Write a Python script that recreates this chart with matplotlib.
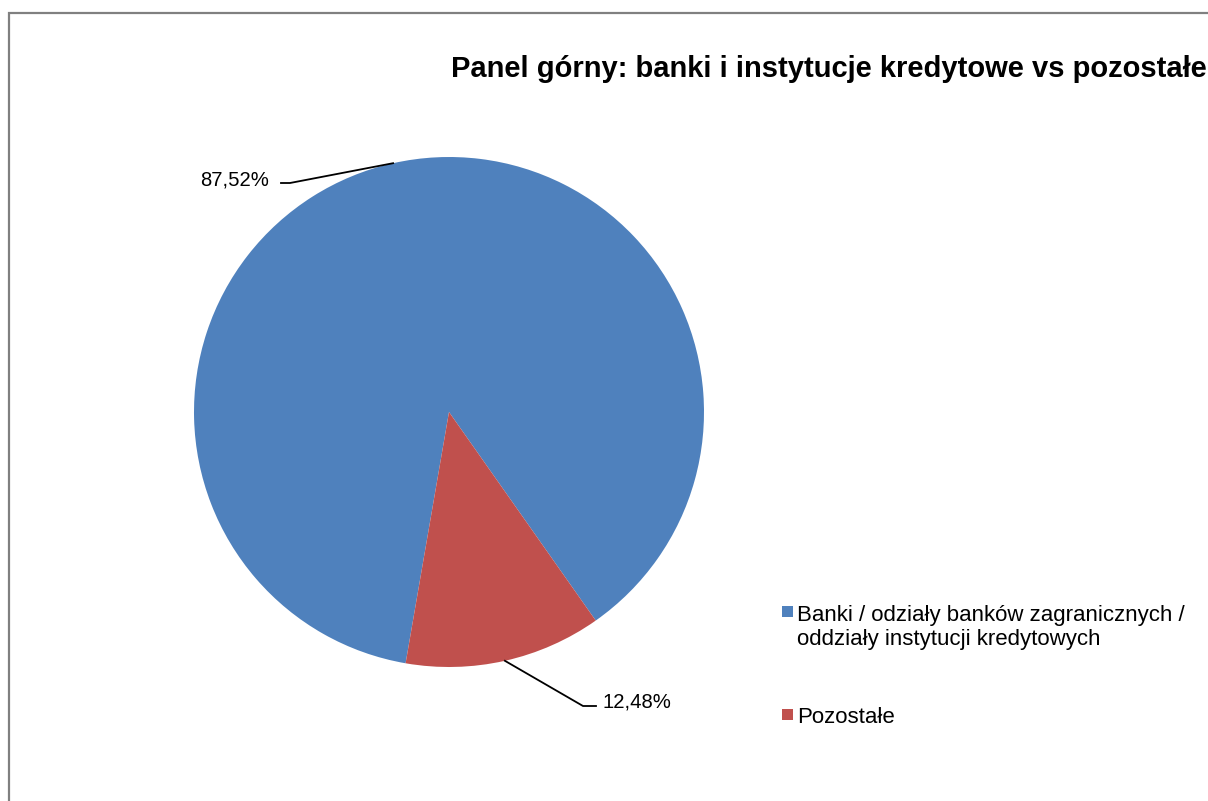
import numpy as np
import matplotlib.pyplot as plt
from matplotlib.patches import Rectangle

plt.rcParams['font.family'] = ['Liberation Sans', 'DejaVu Sans']

labels = ['Banki / odziały banków zagranicznych /\noddziały instytucji kredytowych',
          'Pozostałe']
shares = [87.52, 12.48]
pct_labels = ['87,52%', '12,48%']
colors = ['#4F81BD', '#C0504D']
title = 'Panel górny: banki i instytucje kredytowe vs pozostałe'

W, H = 1208, 801
fig = plt.figure(figsize=(W / 100, H / 100), dpi=100)
ax = fig.add_axes([0, 0, 1, 1])

cx, cy, r = 449, H - 412, 255
wedges, _ = ax.pie(shares, colors=colors, startangle=260.2, counterclock=False,
                   center=(cx, cy), radius=r, wedgeprops=dict(linewidth=0))
ax.set_xlim(0, W)
ax.set_ylim(0, H)
ax.set_aspect('equal')
ax.axis('off')

# chart border (clipped on right/bottom like the source)
ax.add_patch(Rectangle((9, -20), W + 40, H - 13 + 20, fill=False,
                       edgecolor='#808080', linewidth=1.6, clip_on=False))

# leader lines + data labels: (elbow, line end, text pos, alignment)
label_geo = [((290, H - 183), (281, H - 183), (269, H - 185), 'right'),
             ((583, H - 706), (596, H - 706), (602, H - 707), 'left')]
for w, txt, (elbow, end, tpos, ha) in zip(wedges, pct_labels, label_geo):
    mid = np.deg2rad((w.theta1 + w.theta2) / 2)
    px, py = cx + r * np.cos(mid), cy + r * np.sin(mid)
    ax.plot([px, elbow[0], end[0]], [py, elbow[1], end[1]], color='black', lw=1.3)
    ax.text(tpos[0], tpos[1], txt, ha=ha, va='baseline', fontsize=14.6)

ax.text(451, H - 77, title, ha='left', va='baseline', fontsize=21, fontweight='bold')

# legend (text baseline refers to the last line, so shift multi-line entries down)
leg_y = [H - 620, H - 723]
line_px = 25
for lab, col, y in zip(labels, colors, leg_y):
    ax.add_patch(Rectangle((782, y + 3), 11, 11, facecolor=col, edgecolor='none'))
    n = lab.count('\n')
    ax.text(797, y - n * line_px, lab, ha='left', va='baseline', fontsize=16,
            linespacing=1.19)

fig.savefig('out.png', dpi=100)
